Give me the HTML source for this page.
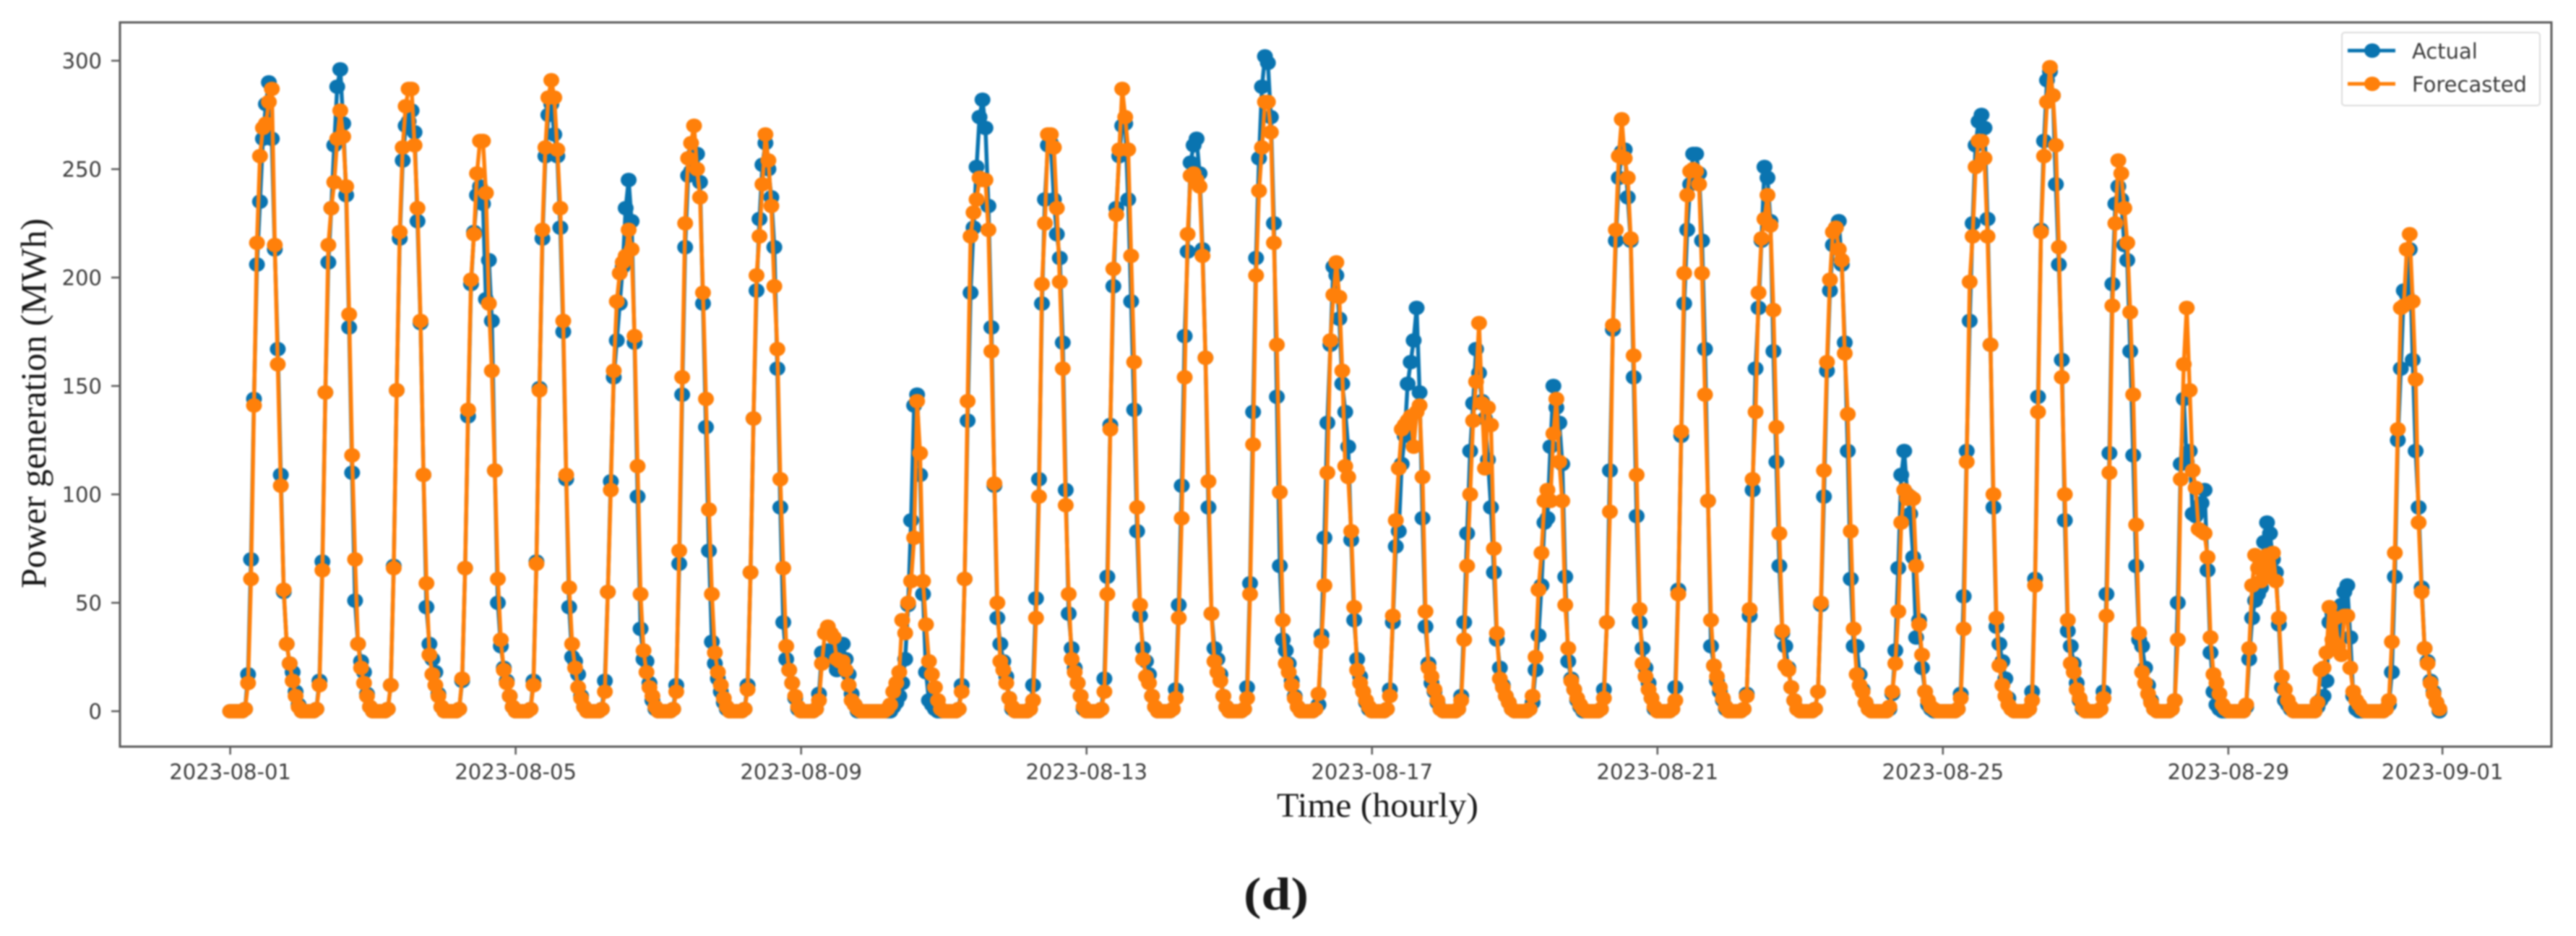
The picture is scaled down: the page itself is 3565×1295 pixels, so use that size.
<!DOCTYPE html>
<html lang="en">
<head>
<meta charset="utf-8">
<title>Power generation: actual vs forecasted</title>
<style>
html,body{margin:0;padding:0;background:#fff;width:3565px;height:1295px;overflow:hidden}
svg{display:block;filter:blur(1px)}
.tick{font-family:"DejaVu Sans",sans-serif;font-size:29px;fill:#3c3c3c}
.serif{font-family:"Liberation Serif",serif;fill:#1a1a1a}
</style>
</head>
<body>
<svg id="chart" xmlns="http://www.w3.org/2000/svg" width="3565" height="1295" viewBox="0 0 3565 1295">
<rect x="166" y="31" width="3365" height="1002" fill="#fff"/>
<g id="series"></g>
<rect x="166" y="31" width="3365" height="1002" fill="none" stroke="#5a5a5a" stroke-width="3"/>
<g id="axes"></g>
<text class="serif" transform="translate(63,814) rotate(-90)" font-size="50" textLength="512" lengthAdjust="spacingAndGlyphs">Power generation (MWh)</text>
<text class="serif" x="1767" y="1130" font-size="48" textLength="279" lengthAdjust="spacingAndGlyphs">Time (hourly)</text>
<text class="serif" x="1721" y="1258" font-size="64" font-weight="bold" fill="#000" textLength="90" lengthAdjust="spacingAndGlyphs">(d)</text>
<g>
<rect x="3241" y="45" width="274" height="101" rx="4" fill="#fff" stroke="#dcdcdc" stroke-width="2"/>
<g>
<line x1="3249" x2="3315" y1="70" y2="70" stroke="#0a74b0" stroke-width="5"/>
<ellipse cx="3283" cy="70" rx="11" ry="10" fill="#0a74b0"/>
<text class="tick" x="3338" y="81">Actual</text>
</g>
<g>
<line x1="3249" x2="3315" y1="116" y2="116" stroke="#ff800a" stroke-width="5"/>
<ellipse cx="3283" cy="116" rx="11" ry="10" fill="#ff800a"/>
<text class="tick" x="3338" y="127">Forecasted</text>
</g>
</g>
</svg>
<script>
const startDate = '2023-08-01';
const xTickLabels = ['2023-08-01','2023-08-05','2023-08-09','2023-08-13','2023-08-17','2023-08-21','2023-08-25','2023-08-29','2023-09-01'];
const yTickLabels = [0,50,100,150,200,250,300];
const actual = [
0,0,0,0,0,1,17,70,144,206,235,264,280,290,264,213,167,109,55,31,22,18,9,3,
0,0,0,0,0,1,14,69,147,207,232,261,288,296,271,238,177,110,51,31,23,18,8,2,
0,0,0,0,0,1,12,67,148,218,254,270,272,277,267,226,179,109,48,31,24,18,8,2,
0,0,0,0,0,1,14,66,136,197,221,238,242,234,190,208,180,111,50,30,20,14,7,2,
0,0,0,0,0,1,14,69,149,218,256,275,280,266,256,223,175,107,48,25,23,17,7,2,
0,0,0,0,0,1,14,55,106,154,171,188,205,232,245,226,170,99,38,24,23,13,5,1,
0,0,0,0,0,1,12,68,146,214,247,249,257,257,244,188,131,74,32,22,15,9,4,1,
0,0,0,0,0,1,12,64,135,194,227,252,262,250,237,214,158,94,41,24,19,13,6,1,
0,0,0,0,0,1,8,27,27,28,27,23,19,25,31,24,17,8,3,0,0,0,0,0,
0,0,0,0,0,0,0,2,4,7,13,24,49,88,141,146,109,54,18,5,3,1,0,0,
0,0,0,0,0,1,12,61,134,193,223,251,274,282,269,233,177,104,43,31,23,16,6,1,
0,0,0,0,0,1,12,52,107,188,236,261,262,236,220,209,170,102,45,29,20,13,7,1,
0,0,0,0,0,1,15,62,132,196,232,256,270,271,236,189,139,83,44,29,23,17,7,2,
0,0,0,0,0,1,10,49,104,173,212,253,261,264,248,213,163,94,45,29,24,17,7,2,
0,0,0,0,0,1,11,59,138,209,255,288,302,299,274,225,145,67,33,28,22,14,7,2,
0,0,0,0,0,1,3,35,80,133,169,205,201,181,151,138,122,79,42,24,16,9,4,1,
0,0,0,0,0,1,10,41,76,83,114,127,151,161,171,186,147,89,39,22,13,9,4,1,
0,0,0,0,0,1,7,41,82,120,142,167,156,143,135,116,94,64,33,20,12,7,4,1,
0,0,0,0,0,1,4,19,35,58,87,89,122,150,140,133,114,62,23,15,10,5,2,0,
0,0,0,0,0,1,10,41,111,176,217,246,258,259,237,217,154,90,41,29,20,13,6,1,
0,0,0,0,0,1,11,56,127,188,222,243,257,257,248,217,167,97,30,21,14,9,5,1,
0,0,0,0,0,1,8,44,102,158,186,217,251,246,226,166,115,67,36,30,20,11,5,1,
0,0,0,0,0,1,9,49,99,157,194,215,223,226,206,170,120,61,30,30,17,10,4,1,
0,0,0,0,0,0,1,8,28,66,109,120,100,91,71,34,42,20,9,3,1,0,0,0,
0,0,0,0,0,1,8,53,120,180,225,261,272,275,269,227,169,94,39,31,23,15,6,1,
0,0,0,0,0,1,9,61,145,222,263,291,295,284,243,206,162,88,37,30,22,13,5,1,
0,0,0,0,0,1,9,54,119,197,234,242,236,215,208,166,118,67,33,30,20,12,5,1,
0,0,0,0,0,1,5,50,114,144,115,120,91,90,92,96,102,65,27,9,3,1,0,0,
0,0,0,0,0,0,2,24,43,51,54,57,78,87,82,70,64,40,11,5,3,1,0,0,
0,0,0,0,0,0,2,5,7,14,41,45,30,28,49,55,58,34,7,1,0,0,0,0,
0,0,0,0,0,1,3,18,62,125,158,194,192,213,162,120,94,57,29,23,14,9,4,0
];
const forecasted = [
0,0,0,0,0,1,13,61,141,216,256,269,271,281,287,215,160,104,56,31,22,14,7,2,
0,0,0,0,0,1,12,65,147,215,232,244,264,277,265,242,183,118,70,31,20,13,7,2,
0,0,0,0,0,1,12,66,148,221,260,279,287,287,261,232,180,109,59,26,17,12,7,2,
0,0,0,0,0,1,15,66,139,199,220,248,263,263,239,188,157,111,61,33,19,13,7,2,
0,0,0,0,0,1,12,68,148,222,260,283,291,283,259,232,180,109,57,31,20,11,6,2,
0,0,0,0,0,1,9,55,102,157,189,202,207,210,222,213,173,113,54,28,18,11,7,2,
0,0,0,0,0,1,9,74,154,225,255,262,270,250,237,193,144,93,54,27,18,12,6,2,
0,0,0,0,0,1,10,64,135,201,219,243,266,254,233,196,167,107,66,30,19,13,7,2,
0,0,0,0,0,1,5,22,36,39,36,34,24,23,23,19,12,5,3,1,0,0,0,0,
0,0,0,0,0,1,3,9,13,18,42,36,50,60,80,143,119,60,40,23,17,11,5,1,
0,0,0,0,0,1,9,61,143,219,230,236,246,245,245,222,166,105,50,23,19,13,6,2,
0,0,0,0,0,1,5,43,99,197,225,266,266,260,232,198,158,95,54,24,18,13,7,2,
0,0,0,0,0,1,9,54,130,204,229,259,287,274,259,210,161,94,49,24,16,13,7,2,
0,0,0,0,0,1,6,43,89,154,220,247,248,245,242,210,163,106,45,23,18,14,7,2,
0,0,0,0,0,1,6,54,123,201,240,260,281,281,267,216,169,101,42,22,18,12,6,2,
0,0,0,0,0,1,8,32,58,110,171,192,207,191,157,113,108,83,48,19,13,9,5,2,
0,0,0,0,0,1,7,44,88,112,130,132,134,136,122,138,141,108,46,20,16,10,5,1,
0,0,0,0,0,1,5,33,67,100,134,152,179,142,112,140,132,75,36,15,11,7,4,1,
0,0,0,0,0,1,7,25,56,73,97,102,97,128,144,115,97,49,29,14,10,6,3,1,
0,0,0,0,0,1,6,41,92,178,222,256,273,255,246,218,164,109,47,22,16,10,6,2,
0,0,0,0,0,1,5,54,129,202,238,249,250,249,243,202,146,97,42,21,16,11,6,2,
0,0,0,0,0,1,7,47,107,138,193,218,227,238,224,185,131,82,37,21,19,11,5,1,
0,0,0,0,0,1,9,50,111,161,199,221,223,213,208,165,137,83,38,17,12,9,4,1,
0,0,0,0,0,0,2,9,22,46,87,102,98,99,98,67,40,26,9,5,2,1,0,0,
0,0,0,0,0,1,6,38,115,198,219,251,263,263,255,219,169,100,43,21,12,7,3,1,
0,0,0,0,0,1,5,58,138,221,256,281,297,284,261,214,154,100,42,22,18,10,6,2,
0,0,0,0,0,1,6,44,110,187,225,254,248,232,216,184,146,86,36,18,13,8,4,1,
0,0,0,0,0,1,5,33,107,160,186,148,111,103,84,83,82,71,34,17,13,8,3,1,
0,0,0,0,0,0,3,29,58,72,66,60,68,72,62,73,60,43,16,10,5,2,0,0,
0,0,0,0,0,0,4,19,20,27,48,33,43,30,26,44,44,20,9,5,3,1,0,0,
0,0,0,0,0,1,5,32,73,130,186,187,213,220,189,153,87,55,29,22,13,8,4,1
];

const SVG_NS = 'http://www.w3.org/2000/svg';
const X_ORIGIN = 318.6, PX_PER_HOUR = 4.115;
const Y_ZERO = 984, PX_PER_UNIT = 3.0;
const PLOT_BOTTOM = 1033, PLOT_LEFT = 166;

function xScale(hour){ return X_ORIGIN + PX_PER_HOUR * hour; }
function yScale(value){ return Y_ZERO - PX_PER_UNIT * value; }
function hoursFromStart(dateText){
  return (Date.parse(dateText + 'T00:00:00Z') - Date.parse(startDate + 'T00:00:00Z')) / 3600000;
}
function make(tag){ return document.createElementNS(SVG_NS, tag); }

const axes = document.getElementById('axes');
xTickLabels.forEach(function(label){
  const x = xScale(hoursFromStart(label));
  const mark = make('line');
  
  
  mark.setAttribute('x1', x); mark.setAttribute('x2', x);
  mark.setAttribute('y1', PLOT_BOTTOM); mark.setAttribute('y2', PLOT_BOTTOM + 11);
  mark.setAttribute('stroke', '#5a5a5a'); mark.setAttribute('stroke-width', 2.5);
  axes.appendChild(mark);
  const text = make('text');
  
  
  text.setAttribute('class', 'tick');
  text.setAttribute('x', x); text.setAttribute('y', PLOT_BOTTOM + 45);
  text.setAttribute('text-anchor', 'middle');
  text.textContent = label;
  axes.appendChild(text);
});
yTickLabels.forEach(function(value){
  const y = yScale(value);
  const mark = make('line');
  
  
  mark.setAttribute('x1', PLOT_LEFT - 12); mark.setAttribute('x2', PLOT_LEFT);
  mark.setAttribute('y1', y); mark.setAttribute('y2', y);
  mark.setAttribute('stroke', '#5a5a5a'); mark.setAttribute('stroke-width', 2.5);
  axes.appendChild(mark);
  const text = make('text');
  
  
  text.setAttribute('class', 'tick');
  text.setAttribute('x', PLOT_LEFT - 25); text.setAttribute('y', y + 10.5);
  text.setAttribute('text-anchor', 'end');
  text.textContent = value;
  axes.appendChild(text);
});

const seriesLayer = document.getElementById('series');
function drawSeries(values, colour, lineName, pointName){
  const line = make('polyline');
  
  
  line.setAttribute('fill', 'none');
  line.setAttribute('stroke', colour);
  line.setAttribute('stroke-width', 5.5);
  line.setAttribute('stroke-linejoin', 'round');
  line.setAttribute('points', values.map(function(v, h){ return xScale(h).toFixed(1) + ',' + yScale(v).toFixed(1); }).join(' '));
  seriesLayer.appendChild(line);
  values.forEach(function(v, h){
    const dot = make('ellipse');
    
    
    dot.setAttribute('cx', xScale(h).toFixed(1));
    dot.setAttribute('cy', yScale(v).toFixed(1));
    dot.setAttribute('rx', 11);
    dot.setAttribute('ry', 10);
    dot.setAttribute('fill', colour);
    seriesLayer.appendChild(dot);
  });
}
drawSeries(actual, '#0a74b0', 'actual-line', 'actual-point');
drawSeries(forecasted, '#ff800a', 'forecasted-line', 'forecasted-point');
</script>
</body>
</html>
